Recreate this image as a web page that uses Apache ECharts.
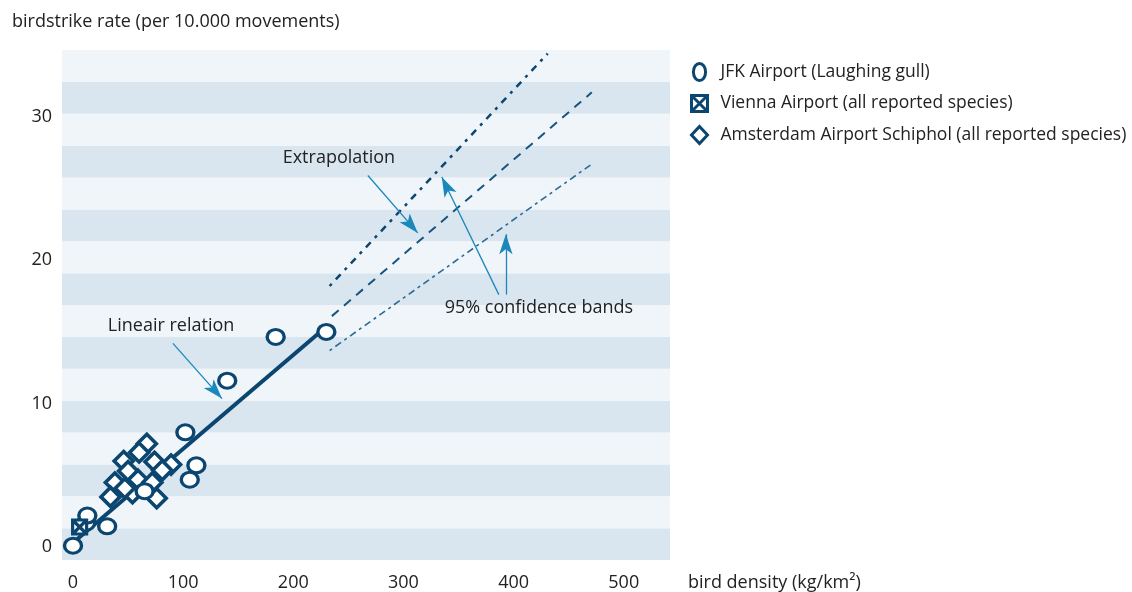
<!DOCTYPE html>
<html>
<head>
<meta charset="utf-8">
<script src="https://cdn.jsdelivr.net/npm/echarts@6/dist/echarts.min.js"></script>
<style>
  html, body { margin: 0; padding: 0; background: #fff; }
  #chart { width: 1132px; height: 592px; }
</style>
</head>
<body>
<div id="chart"></div>
<script>
// axis ticks
var xTicks = [0, 100, 200, 300, 400, 500];
var yTicks = [0, 10, 20, 30];

// observations [bird density, birdstrike rate]
var jfk = [[0, 0.1], [12, 1.7], [13, 2.2], [31, 1.45], [65, 3.9], [102, 8.0],
  [106, 4.7], [112, 5.7], [140, 11.6], [184, 14.65], [230, 15.0]];
var vienna = [[6, 1.4]];
var schiphol = [[67, 7.2], [60, 6.6], [46, 6.0], [74, 5.95], [89, 5.75], [81, 5.35],
  [50, 5.3], [38, 4.5], [59, 4.7], [72, 4.5], [34, 3.5], [54, 3.75], [76, 3.4], [47, 4.1]];

// fitted relation and its extrapolation
var fitLine = [[0, 0.3], [226, 15.1]];
var extrapolation = [[235, 16.1], [471, 31.7]];
var upperBand = [[233, 18.2], [431, 34.4]];
var lowerBand = [[233, 13.7], [471, 26.7]];

// annotation arrows [from, to] and labels
var arrows = [
  [[90.7, 14.2], [135.2, 10.35]],
  [[267.7, 25.9], [313, 21.9]],
  [[386.6, 17.6], [334.8, 25.8]],
  [[393, 17.6], [393, 21.8]]
];
var notes = [
  { name: 'Lineair relation', coord: [89, 15.4] },
  { name: 'Extrapolation', coord: [241.4, 27.1] },
  { name: '95% confidence bands', coord: [423, 16.7] }
];

var navy = '#0b4671';
var arrowBlue = '#1b87ba';
var ink = '#222';
var font = 'Open Sans';
var ellipse = 'path://M0,10A10,10 0 1,1 20,10A10,10 0 1,1 0,10Z';
var tallEllipse = 'path://M0,14A10,14 0 1,1 20,14A10,14 0 1,1 0,14Z';
var crossBox = 'path://M0,0L10,0L10,10L0,10Z M0,0L10,10 M10,0L0,10';

var chart = echarts.init(document.getElementById('chart'), null, { renderer: 'canvas' });

chart.setOption({
  animation: false,
  textStyle: { fontFamily: font },
  grid: { left: 62, right: 462, top: 50, bottom: 30 },
  graphic: [{
    type: 'text',
    x: 12, y: 22,
    style: { text: 'birdstrike rate (per 10.000 movements)', font: '18px "Open Sans"', fill: ink, verticalAlign: 'middle' }
  }, {
    type: 'text',
    x: 688, y: 583,
    style: { text: 'bird density (kg/km²)', font: '18px "Open Sans"', fill: ink, verticalAlign: 'middle' }
  }],
  legend: {
    orient: 'vertical',
    left: 690,
    top: 62,
    padding: 0,
    itemWidth: 16,
    itemHeight: 17,
    itemGap: 12,
    itemStyle: { borderWidth: 3 },
    textStyle: { color: ink, fontSize: 17.5, fontFamily: font, padding: [0, 0, 0, 8] },
    data: [
      { name: 'JFK Airport (Laughing gull)', icon: tallEllipse },
      { name: 'Vienna Airport (all reported species)', icon: crossBox },
      { name: 'Amsterdam Airport Schiphol (all reported species)', icon: 'diamond' }
    ]
  },
  xAxis: {
    type: 'value',
    min: -10,
    max: 542,
    axisLine: { show: false },
    axisTick: { show: false },
    splitLine: { show: false },
    axisLabel: { customValues: xTicks, color: ink, fontSize: 18, margin: 14 }
  },
  yAxis: [{
    type: 'value',
    min: -0.9,
    max: 34.65,
    axisLine: { show: false },
    axisTick: { show: false },
    splitLine: { show: false },
    axisLabel: { customValues: yTicks, color: ink, fontSize: 18, margin: 10 }
  }, {
    // only used for the horizontal stripes
    type: 'value',
    min: 0,
    max: 16,
    interval: 1,
    axisLine: { show: false },
    axisTick: { show: false },
    axisLabel: { show: false },
    splitLine: { show: false },
    splitArea: { show: true, areaStyle: { color: ['#d9e6ef', '#eff5f9'] } }
  }],
  series: [
    {
      name: 'fit',
      type: 'line',
      data: fitLine,
      symbol: 'none',
      z: 2,
      lineStyle: { color: navy, width: 4 }
    },
    {
      name: 'extrapolation',
      type: 'line',
      data: extrapolation,
      symbol: 'none',
      z: 2,
      lineStyle: { color: '#17557f', width: 2, type: [9, 7] }
    },
    {
      name: 'upper',
      type: 'line',
      data: upperBand,
      symbol: 'none',
      z: 2,
      lineStyle: { color: navy, width: 2.5, type: [3, 6, 7, 6] }
    },
    {
      name: 'lower',
      type: 'line',
      data: lowerBand,
      symbol: 'none',
      z: 2,
      lineStyle: { color: '#2a6a96', width: 1.6, type: [3, 4, 7, 4] }
    },
    {
      name: 'JFK Airport (Laughing gull)',
      type: 'scatter',
      data: jfk,
      symbol: ellipse,
      symbolSize: [17, 15],
      z: 4,
      itemStyle: { color: '#fff', borderColor: navy, borderWidth: 3.2, opacity: 1 }
    },
    {
      name: 'Vienna Airport (all reported species)',
      type: 'scatter',
      data: vienna,
      symbol: crossBox,
      symbolSize: 14,
      z: 4,
      itemStyle: { color: '#fff', borderColor: navy, borderWidth: 3.2, opacity: 1 }
    },
    {
      name: 'Amsterdam Airport Schiphol (all reported species)',
      type: 'scatter',
      data: schiphol,
      symbol: 'diamond',
      symbolSize: 19,
      z: 3,
      itemStyle: { color: '#fff', borderColor: navy, borderWidth: 3.6, opacity: 1 }
    },
    {
      name: 'notes',
      type: 'scatter',
      data: [],
      silent: true,
      z: 5,
      markLine: {
        silent: true,
        symbol: ['none', 'arrow'],
        symbolSize: [10, 20],
        label: { show: false },
        lineStyle: { color: arrowBlue, width: 1.3, type: 'solid' },
        data: arrows.map(function(a) { return [{ coord: a[0] }, { coord: a[1] }]; })
      },
      markPoint: {
        silent: true,
        symbol: 'rect',
        symbolSize: 1,
        itemStyle: { color: 'rgba(0,0,0,0)' },
        label: { show: true, position: 'inside', formatter: '{b}', color: ink, fontSize: 18, fontFamily: font },
        data: notes
      }
    }
  ]
});

window.addEventListener('resize', function() { chart.resize(); });
</script>
</body>
</html>
